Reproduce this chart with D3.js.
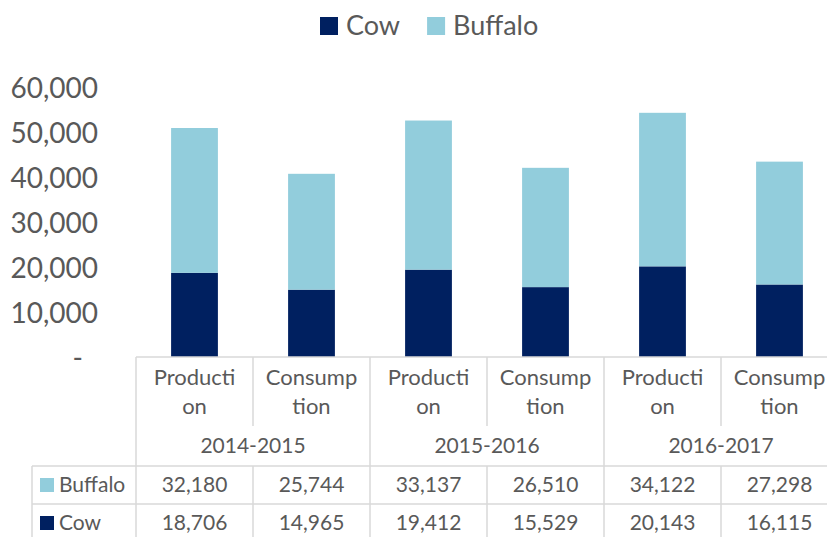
<!DOCTYPE html>
<html>
<head>
<meta charset="utf-8">
<script src="https://cdn.jsdelivr.net/npm/d3@7/dist/d3.min.js"></script>
<style>
  html, body { margin: 0; padding: 0; background: #fff; }
  svg { display: block; font-family: Lato, "Open Sans", sans-serif; }
</style>
</head>
<body>
<svg id="chart" width="827" height="537"></svg>
<script>
// Milk production and consumption by animal, per fiscal year
const years = ["2014-2015", "2015-2016", "2016-2017"];
const measures = ["Production", "Consumption"];
const measureLines = [["Producti", "on"], ["Consump", "tion"]];
const seriesNames = ["Cow", "Buffalo"];
const cowValues = [18706, 14965, 19412, 15529, 20143, 16115];
const buffaloValues = [32180, 25744, 33137, 26510, 34122, 27298];
const yTicks = [0, 10000, 20000, 30000, 40000, 50000, 60000];

const colors = { Cow: "#002060", Buffalo: "#92CDDC" };
const textColor = "#595959";
const gridColor = "#d9d9d9";

// one row per bar: year × measure
const rows = [];
years.forEach((yr, i) => measures.forEach((m, j) => {
  const k = i * measures.length + j;
  rows.push({ key: k, year: yr, measure: j, Cow: cowValues[k], Buffalo: buffaloValues[k] });
}));

const svg = d3.select("#chart");

const plotLeft = 136, plotRight = 838, baseY = 357, topY = 87;
const x = d3.scaleBand()
  .domain(rows.map(d => d.key))
  .range([plotLeft, plotRight])
  .paddingInner(0.6)
  .paddingOuter(0.3);
const step = x.step();
const y = d3.scaleLinear().domain([0, 60000]).range([baseY, topY]);

// Y axis labels (no line, no ticks)
const fmt = d3.format(",");
const yAxis = d3.axisLeft(y).tickValues(yTicks)
  .tickFormat(v => v === 0 ? "-" : fmt(v)).tickSize(0).tickPadding(0);
const yg = svg.append("g").attr("transform", "translate(98,0)").call(yAxis);
yg.select(".domain").remove();
yg.selectAll("text")
  .attr("fill", textColor)
  .attr("font-size", 28)
  .attr("font-family", "Lato, sans-serif")
  .attr("dy", "0.36em")
  .attr("dx", v => v === 0 ? -15 : 0);

// stacked bars
const stack = d3.stack().keys(seriesNames);
const layers = stack(rows);
svg.append("g").selectAll("g")
  .data(layers).join("g")
  .attr("fill", d => colors[d.key])
  .selectAll("rect")
  .data(d => d).join("rect")
  .attr("x", d => x(d.data.key))
  .attr("width", x.bandwidth())
  .attr("y", d => y(d[1]))
  .attr("height", d => y(d[0]) - y(d[1]));

// legend
const legend = svg.append("g");
let lx = 320;
seriesNames.forEach(name => {
  legend.append("rect").attr("x", lx).attr("y", 17).attr("width", 18).attr("height", 18)
    .attr("fill", colors[name]);
  const t = legend.append("text").attr("x", lx + 26).attr("y", 35)
    .attr("font-size", 27).attr("fill", textColor).text(name);
  lx = lx + 26 + t.node().getComputedTextLength() + 27;
});

// category axis + data table grid
const grid = svg.append("g").attr("stroke", gridColor).attr("stroke-width", 1.5).attr("fill", "none");
const rowTop = 466, rowMid = 504, rowBot = 542, catBreak = 426, tableLeft = 32;
const edge = k => plotLeft + k * step;

grid.append("line").attr("x1", plotLeft).attr("x2", plotRight).attr("y1", baseY).attr("y2", baseY);
grid.append("line").attr("x1", tableLeft).attr("x2", plotRight).attr("y1", rowTop).attr("y2", rowTop);
grid.append("line").attr("x1", tableLeft).attr("x2", plotRight).attr("y1", rowMid).attr("y2", rowMid);
grid.append("line").attr("x1", tableLeft).attr("x2", plotRight).attr("y1", rowBot).attr("y2", rowBot);
grid.append("line").attr("x1", tableLeft).attr("x2", tableLeft).attr("y1", rowTop).attr("y2", rowBot);
d3.range(rows.length + 1).forEach(k => {
  const xe = edge(k);
  if (k % measures.length === 0) {
    grid.append("line").attr("x1", xe).attr("x2", xe).attr("y1", baseY).attr("y2", rowBot);
  } else {
    grid.append("line").attr("x1", xe).attr("x2", xe).attr("y1", baseY).attr("y2", catBreak);
    grid.append("line").attr("x1", xe).attr("x2", xe).attr("y1", rowTop).attr("y2", rowBot);
  }
});

const labels = svg.append("g").attr("fill", textColor).attr("text-anchor", "middle");

// measure labels (wrapped over two lines)
rows.forEach(d => {
  const cx = edge(d.key) + step / 2;
  const t = labels.append("text").attr("font-size", 22);
  measureLines[d.measure].forEach((ln, i) => {
    t.append("tspan").attr("x", cx).attr("y", 385 + i * 29).text(ln);
  });
});

// year group labels
years.forEach((yr, i) => {
  const cx = edge(i * measures.length) + step * measures.length / 2;
  labels.append("text").attr("x", cx).attr("y", 453).attr("font-size", 21).text(yr);
});

// data table rows: Buffalo on top, Cow below
const tableRows = [
  { name: "Buffalo", values: buffaloValues, base: 492 },
  { name: "Cow", values: cowValues, base: 530 }
];
tableRows.forEach(r => {
  svg.append("rect").attr("x", 40).attr("y", r.base - 14).attr("width", 14).attr("height", 14)
    .attr("fill", colors[r.name]);
  svg.append("text").attr("x", 59).attr("y", r.base).attr("font-size", 21)
    .attr("fill", textColor).text(r.name);
  r.values.forEach((v, k) => {
    labels.append("text").attr("x", edge(k) + step / 2).attr("y", r.base)
      .attr("font-size", 21).text(fmt(v));
  });
});
</script>
</body>
</html>
